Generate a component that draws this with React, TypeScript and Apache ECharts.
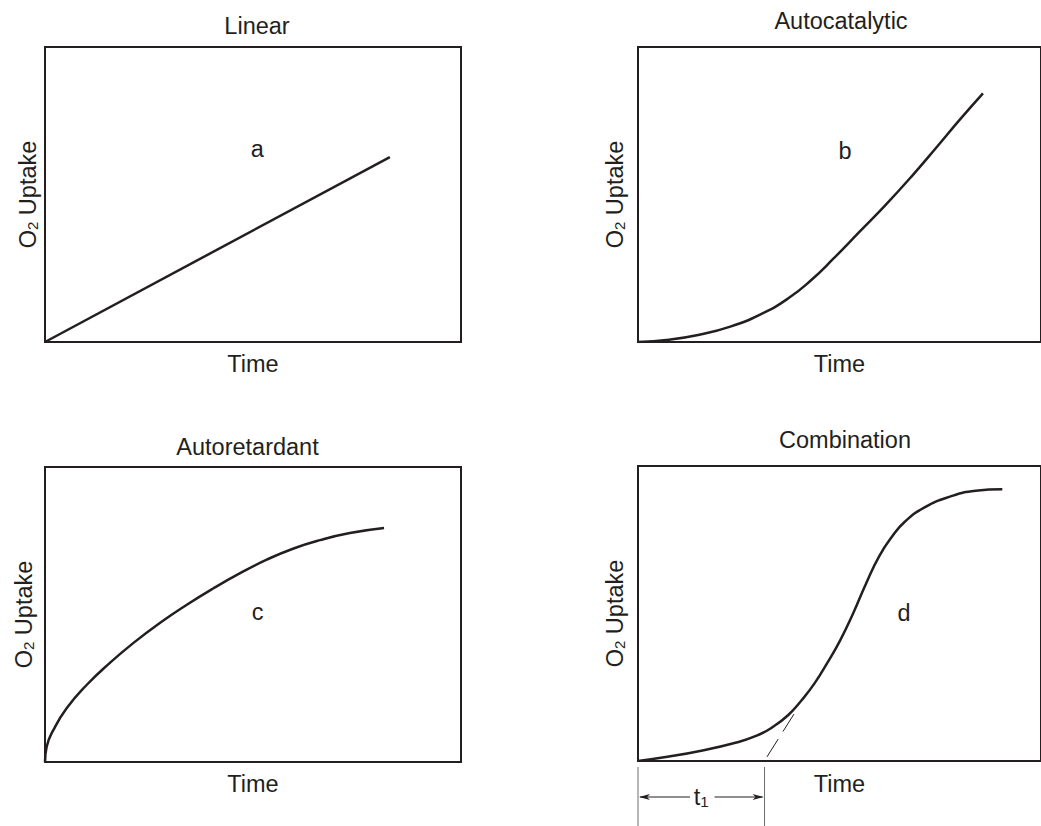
import React, { useEffect, useRef } from "react";
import * as echarts from "echarts";

// ---------- data (arbitrary units 0..100) ----------
const panelTitles = ["Linear", "Autocatalytic", "Autoretardant", "Combination"];
const xAxisTitle = "Time";
const curveLetters = ["a", "b", "c", "d"];
const letterPositions = [
  [51.0, 65.3],
  [51.4, 64.9],
  [51.1, 50.7],
  [66.0, 50.3],
];

const linearCurve = [
  [0, 0],
  [82.9, 62.7],
];

const autocatalyticCurve = [
  [0, 0],
  [7.7, 0.8],
  [14.9, 2.4],
  [22.9, 5.2],
  [30.9, 9.7],
  [37.3, 14.8],
  [43.0, 21.0],
  [48.6, 28.4],
  [55.0, 37.4],
  [61.4, 46.4],
  [67.8, 56.0],
  [74.2, 66.2],
  [79.8, 75.3],
  [85.6, 84.3],
];

const autoretardantCurve = [
  [0, 0],
  [0.4, 5.2],
  [2.0, 10.8],
  [5.2, 18.2],
  [10.0, 26.1],
  [15.6, 33.6],
  [21.2, 40.3],
  [27.6, 47.1],
  [34.1, 53.3],
  [40.4, 58.8],
  [46.9, 64.0],
  [53.3, 68.6],
  [59.6, 72.3],
  [66.1, 75.2],
  [73.3, 77.6],
  [81.5, 79.3],
];

const combinationCurve = [
  [0, 0],
  [7.7, 1.5],
  [15.7, 3.5],
  [23.7, 6.0],
  [29.3, 8.5],
  [33.3, 11.4],
  [37.3, 15.6],
  [40.6, 20.6],
  [43.8, 26.3],
  [46.9, 33.1],
  [50.2, 41.0],
  [53.4, 50.1],
  [56.6, 60.2],
  [59.8, 69.3],
  [63.0, 76.0],
  [66.2, 81.1],
  [71.0, 85.9],
  [77.4, 89.6],
  [83.8, 91.6],
  [90.4, 92.1],
];

const tangentLine = [
  [32.0, 1.4],
  [38.7, 15.9],
];
const t1Value = 31.4;

const curves = [linearCurve, autocatalyticCurve, autoretardantCurve, combinationCurve];

// ---------- layout & style ----------
const FONT = "'Liberation Sans', Arial, Helvetica, sans-serif";
const FS = 23.5;
const INK = "#231f20";
const GRIDS = [
  { left: 45, top: 47 },
  { left: 638, top: 47 },
  { left: 45, top: 467 },
  { left: 638, top: 466 },
];
const GRID_W = 416;
const GRID_H = 295;
const TITLE_POS = [
  [257, 26],
  [841, 21],
  [247.5, 447],
  [845, 440],
];
const Y_NAME_GAP = [5, 11, 9, 11];
const X_NAME_GAP = [10, 10, 10, 11];

export default function App() {
  const ref = useRef<HTMLDivElement>(null);

  useEffect(() => {
    if (!ref.current) return;
    const chart = echarts.init(ref.current, null, { renderer: "svg" });

    const grid = GRIDS.map((g) => ({
      left: g.left,
      top: g.top,
      width: GRID_W,
      height: GRID_H,
      show: true,
      borderColor: INK,
      borderWidth: 2,
      backgroundColor: "transparent",
    }));

    const hidden = {
      axisLine: { show: false },
      axisTick: { show: false },
      axisLabel: { show: false },
      splitLine: { show: false },
    };

    const xAxis = GRIDS.map((_, i) => ({
      type: "value",
      gridIndex: i,
      min: 0,
      max: 100,
      ...hidden,
      name: xAxisTitle,
      nameLocation: "middle",
      nameGap: X_NAME_GAP[i],
      nameTextStyle: {
        fontFamily: FONT,
        fontSize: FS,
        color: INK,
        verticalAlign: "top",
      },
    }));

    const yAxis = GRIDS.map((_, i) => ({
      type: "value",
      gridIndex: i,
      min: 0,
      max: 100,
      ...hidden,
      name: "{o|O}{s|2}{o| Uptake}",
      nameLocation: "middle",
      nameGap: Y_NAME_GAP[i],
      nameTextStyle: {
        rich: {
          o: { fontFamily: FONT, fontSize: FS, color: INK },
          s: { fontFamily: FONT, fontSize: 15, color: INK, verticalAlign: "bottom" },
        },
      },
    }));

    const series: any[] = [];
    curves.forEach((c, i) => {
      series.push({
        type: "line",
        xAxisIndex: i,
        yAxisIndex: i,
        data: c,
        symbol: "none",
        smooth: i === 0 ? false : 0.5,
        lineStyle: { color: INK, width: 2.5 },
        silent: true,
        z: 3,
      });
      series.push({
        type: "scatter",
        xAxisIndex: i,
        yAxisIndex: i,
        data: [letterPositions[i]],
        symbolSize: 1,
        itemStyle: { color: "rgba(255,255,255,0)", opacity: 1 },
        silent: true,
        label: {
          show: true,
          position: "inside",
          formatter: curveLetters[i],
          fontFamily: FONT,
          fontSize: FS,
          color: INK,
          opacity: 1,
          textBorderWidth: 0,
        },
      });
    });
    series.push({
      type: "line",
      xAxisIndex: 3,
      yAxisIndex: 3,
      data: tangentLine,
      symbol: "none",
      lineStyle: { color: INK, width: 1, type: [21, 9] },
      silent: true,
    });

    const titleGraphics = panelTitles.map((t, i) => ({
      type: "text",
      x: TITLE_POS[i][0],
      y: TITLE_POS[i][1],
      silent: true,
      style: {
        text: t,
        fontFamily: FONT,
        fontSize: FS,
        fill: INK,
        align: "center",
        verticalAlign: "middle",
      },
    }));

    chart.setOption({
      animation: false,
      backgroundColor: "#ffffff",
      grid,
      xAxis,
      yAxis,
      series,
      graphic: titleGraphics,
    });

    // t1 annotation beneath the Combination panel, positioned from the axes
    const p0 = chart.convertToPixel({ gridIndex: 3 } as any, [0, 0]) as number[];
    const p1 = chart.convertToPixel({ gridIndex: 3 } as any, [t1Value, 0]) as number[];
    const x0 = p0[0];
    const x1 = p1[0];
    const yb = p0[1];
    const ya = yb + 36;
    const GRAY = "#6d6e71";
    const annot: any[] = [
      {
        type: "line",
        silent: true,
        shape: { x1: x0, y1: yb + 6, x2: x0, y2: 830 },
        style: { stroke: GRAY, lineWidth: 1 },
      },
      {
        type: "line",
        silent: true,
        shape: { x1: x1, y1: yb + 6, x2: x1, y2: 830 },
        style: { stroke: GRAY, lineWidth: 1 },
      },
      {
        type: "line",
        silent: true,
        shape: { x1: x0 + 2, y1: ya, x2: x0 + 52, y2: ya },
        style: { stroke: INK, lineWidth: 1 },
      },
      {
        type: "polygon",
        silent: true,
        shape: {
          points: [
            [x0 + 1, ya],
            [x0 + 12, ya - 3],
            [x0 + 9, ya],
            [x0 + 12, ya + 3],
          ],
        },
        style: { fill: INK },
      },
      {
        type: "line",
        silent: true,
        shape: { x1: x1 - 50, y1: ya, x2: x1 - 2, y2: ya },
        style: { stroke: INK, lineWidth: 1 },
      },
      {
        type: "polygon",
        silent: true,
        shape: {
          points: [
            [x1 - 1, ya],
            [x1 - 12, ya - 3],
            [x1 - 9, ya],
            [x1 - 12, ya + 3],
          ],
        },
        style: { fill: INK },
      },
      {
        type: "text",
        silent: true,
        x: (x0 + x1) / 2,
        y: ya,
        style: {
          text: "{t|t}{s|1}",
          align: "center",
          verticalAlign: "middle",
          rich: {
            t: { fontFamily: FONT, fontSize: FS, fill: INK },
            s: { fontFamily: FONT, fontSize: 15, fill: INK, verticalAlign: "bottom" },
          },
        },
      },
    ];

    chart.setOption({ graphic: [...titleGraphics, ...annot] });

    return () => {
      chart.dispose();
    };
  }, []);

  return (
    <div
      ref={ref}
      style={{ position: "fixed", left: 0, top: 0, width: 1041, height: 826, background: "#fff" }}
    />
  );
}
